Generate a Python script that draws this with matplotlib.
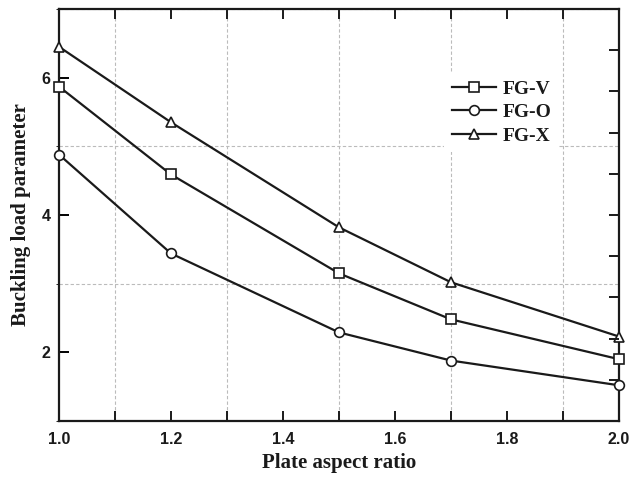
import matplotlib
matplotlib.use('Agg')
import matplotlib.pyplot as plt
from matplotlib.ticker import MultipleLocator, NullFormatter
import numpy as np

aspect_ratio = [1.0, 1.2, 1.5, 1.7, 2.0]
fg_v = [5.87, 4.59, 3.15, 2.48, 1.90]
fg_o = [4.88, 3.44, 2.29, 1.88, 1.52]
fg_x = [6.45, 5.35, 3.82, 3.02, 2.23]

serif = ['Liberation Serif', 'DejaVu Serif']
sans = ['Liberation Sans', 'DejaVu Sans']

fig = plt.figure(figsize=(6.3, 4.78), dpi=100)
ax = fig.add_axes([59 / 630, 1 - 421 / 478, 560 / 630, 412 / 478])

style = dict(color='#1a1a1a', lw=1.6, markersize=7, markerfacecolor='white',
             markeredgewidth=1.2, clip_on=False, zorder=3)
ax.plot(aspect_ratio, fg_v, marker='s', label='FG-V', **style)
ax.plot(aspect_ratio, fg_o, marker='o', label='FG-O', **style)
ax.plot(aspect_ratio, fg_x, marker='^', label='FG-X', **style)

ax.set_xlim(1.0, 2.0)
ax.set_ylim(1, 7)
ax.xaxis.set_major_locator(MultipleLocator(0.2))
ax.xaxis.set_minor_locator(MultipleLocator(0.1))
ax.yaxis.set_major_locator(MultipleLocator(2))
ax.yaxis.set_minor_locator(MultipleLocator(1))

ax.tick_params(axis='x', which='both', direction='in', top=True, width=1.4, color='#1a1a1a')
ax.tick_params(axis='x', which='major', length=7, pad=8)
ax.tick_params(axis='x', which='minor', length=7)
ax.tick_params(axis='y', which='major', direction='in', length=7, width=1.4, right=False, pad=6)
ax.tick_params(axis='y', which='minor', left=False, right=False)
ax.tick_params(axis='both', which='major', labelsize=11.5)
for lab in ax.get_xticklabels() + ax.get_yticklabels():
    lab.set_family(sans)
    lab.set_fontweight('bold')
    lab.set_color('#1a1a1a')

# grid only on the minor positions, like the original
ax.grid(True, which='minor', color='#bbbbbb', ls=(0, (3, 2)), lw=0.8)
ax.grid(False, which='major')

for sp in ax.spines.values():
    sp.set_linewidth(1.6)
    sp.set_color('#1a1a1a')

# right side carries its own evenly spaced ticks
ax2 = ax.twinx()
ax2.set_ylim(0, 10)
ax2.yaxis.set_major_locator(MultipleLocator(1))
ax2.yaxis.set_major_formatter(NullFormatter())
ax2.tick_params(axis='y', direction='in', length=7, width=1.4, color='#1a1a1a')
for sp in ax2.spines.values():
    sp.set_visible(False)

ax.set_xlabel('Plate aspect ratio', family=serif, fontweight='bold', fontsize=15,
              color='#1a1a1a', labelpad=4)
ax.set_ylabel('Buckling load parameter', family=serif, fontweight='bold', fontsize=15,
              color='#1a1a1a', labelpad=8)

leg = ax.legend(loc='upper left', bbox_to_anchor=(0.67, 0.87), frameon=True,
                prop={'family': serif, 'weight': 'bold', 'size': 14},
                handlelength=2.3, handletextpad=0.3, labelspacing=0.3,
                borderpad=0.4, fancybox=False)
leg.get_frame().set_edgecolor('none')
leg.get_frame().set_facecolor('white')
leg.get_frame().set_alpha(1)
leg.set_zorder(5)
for t in leg.get_texts():
    t.set_color('#1a1a1a')

fig.savefig('out.png', dpi=100)
